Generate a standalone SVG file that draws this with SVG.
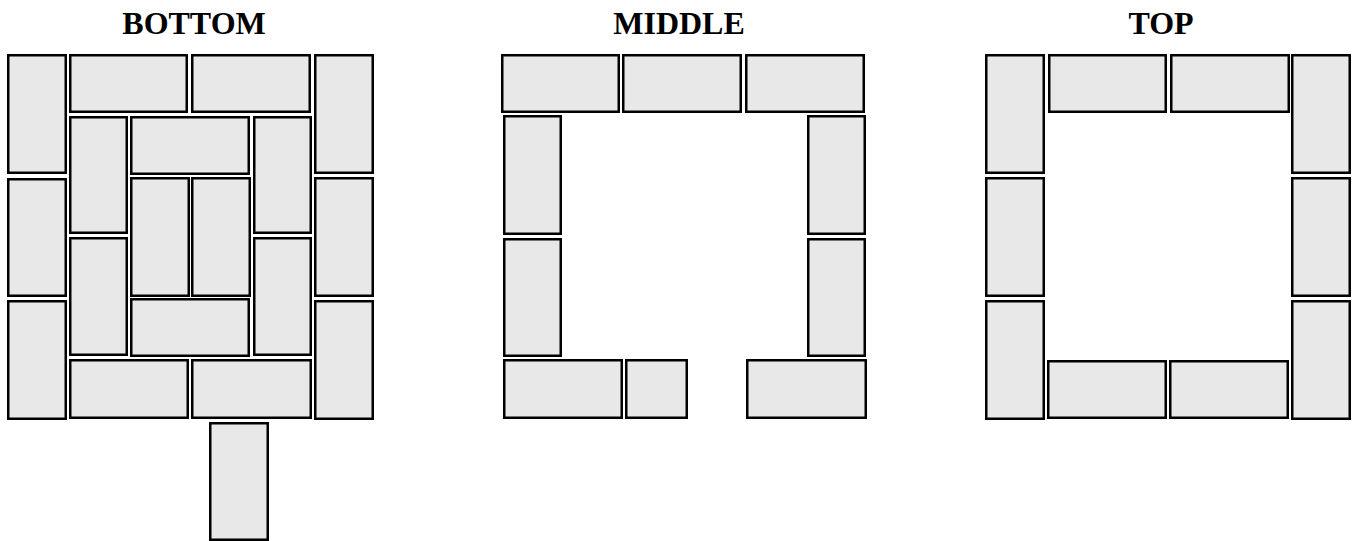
<svg xmlns="http://www.w3.org/2000/svg" width="1352" height="541" viewBox="0 0 1352 541">
<style>
.b{fill:#e8e8e8;stroke:#000;stroke-width:2.5}
.t{font-family:"Liberation Serif",serif;font-weight:bold;font-size:32px;text-anchor:middle;fill:#000}
</style>
<rect width="1352" height="541" fill="#fff"/>
<g id="bottom">
<text class="t" x="194" y="34">BOTTOM</text>
<rect class="b" x="8.25" y="55.25" width="57.5" height="117.5"/>
<rect class="b" x="8.25" y="179.25" width="57.5" height="116.5"/>
<rect class="b" x="8.25" y="301.25" width="57.5" height="117.5"/>
<rect class="b" x="70.25" y="55.25" width="116.5" height="56.5"/>
<rect class="b" x="192.25" y="55.25" width="117.5" height="56.5"/>
<rect class="b" x="315.25" y="55.25" width="57.5" height="117.5"/>
<rect class="b" x="315.25" y="178.25" width="57.5" height="117.5"/>
<rect class="b" x="315.25" y="301.25" width="57.5" height="117.5"/>
<rect class="b" x="70.25" y="117.25" width="56.5" height="115.5"/>
<rect class="b" x="70.25" y="238.25" width="56.5" height="116.5"/>
<rect class="b" x="254.25" y="117.25" width="56.5" height="115.5"/>
<rect class="b" x="254.25" y="238.25" width="56.5" height="116.5"/>
<rect class="b" x="131.25" y="117.25" width="117.5" height="56.5"/>
<rect class="b" x="131.25" y="178.25" width="57.5" height="117.5"/>
<rect class="b" x="192.25" y="178.25" width="57.5" height="117.5"/>
<rect class="b" x="131.25" y="299.25" width="117.5" height="56.5"/>
<rect class="b" x="70.25" y="360.25" width="117.5" height="57.5"/>
<rect class="b" x="192.25" y="360.25" width="118.5" height="57.5"/>
<rect class="b" x="210.25" y="423.25" width="57.5" height="116.5"/>
</g>
<g id="middle">
<text class="t" x="679" y="34">MIDDLE</text>
<rect class="b" x="502.25" y="55.25" width="116.5" height="56.5"/>
<rect class="b" x="623.25" y="55.25" width="117.5" height="56.5"/>
<rect class="b" x="746.25" y="55.25" width="117.5" height="56.5"/>
<rect class="b" x="504.25" y="116.25" width="56.5" height="117.5"/>
<rect class="b" x="504.25" y="239.25" width="56.5" height="116.5"/>
<rect class="b" x="808.25" y="116.25" width="56.5" height="117.5"/>
<rect class="b" x="808.25" y="239.25" width="56.5" height="116.5"/>
<rect class="b" x="504.25" y="360.25" width="117.5" height="57.5"/>
<rect class="b" x="626.25" y="360.25" width="60.5" height="57.5"/>
<rect class="b" x="747.25" y="360.25" width="118.5" height="57.5"/>
</g>
<g id="top">
<text class="t" x="1161" y="34">TOP</text>
<rect class="b" x="986.25" y="55.25" width="57.5" height="117.5"/>
<rect class="b" x="986.25" y="178.25" width="57.5" height="117.5"/>
<rect class="b" x="986.25" y="301.25" width="57.5" height="117.5"/>
<rect class="b" x="1049.25" y="55.25" width="116.5" height="56.5"/>
<rect class="b" x="1171.25" y="55.25" width="117.5" height="56.5"/>
<rect class="b" x="1292.25" y="55.25" width="57.5" height="117.5"/>
<rect class="b" x="1292.25" y="178.25" width="57.5" height="117.5"/>
<rect class="b" x="1292.25" y="301.25" width="57.5" height="117.5"/>
<rect class="b" x="1048.25" y="361.25" width="117.5" height="56.5"/>
<rect class="b" x="1170.25" y="361.25" width="117.5" height="56.5"/>
</g>
</svg>
